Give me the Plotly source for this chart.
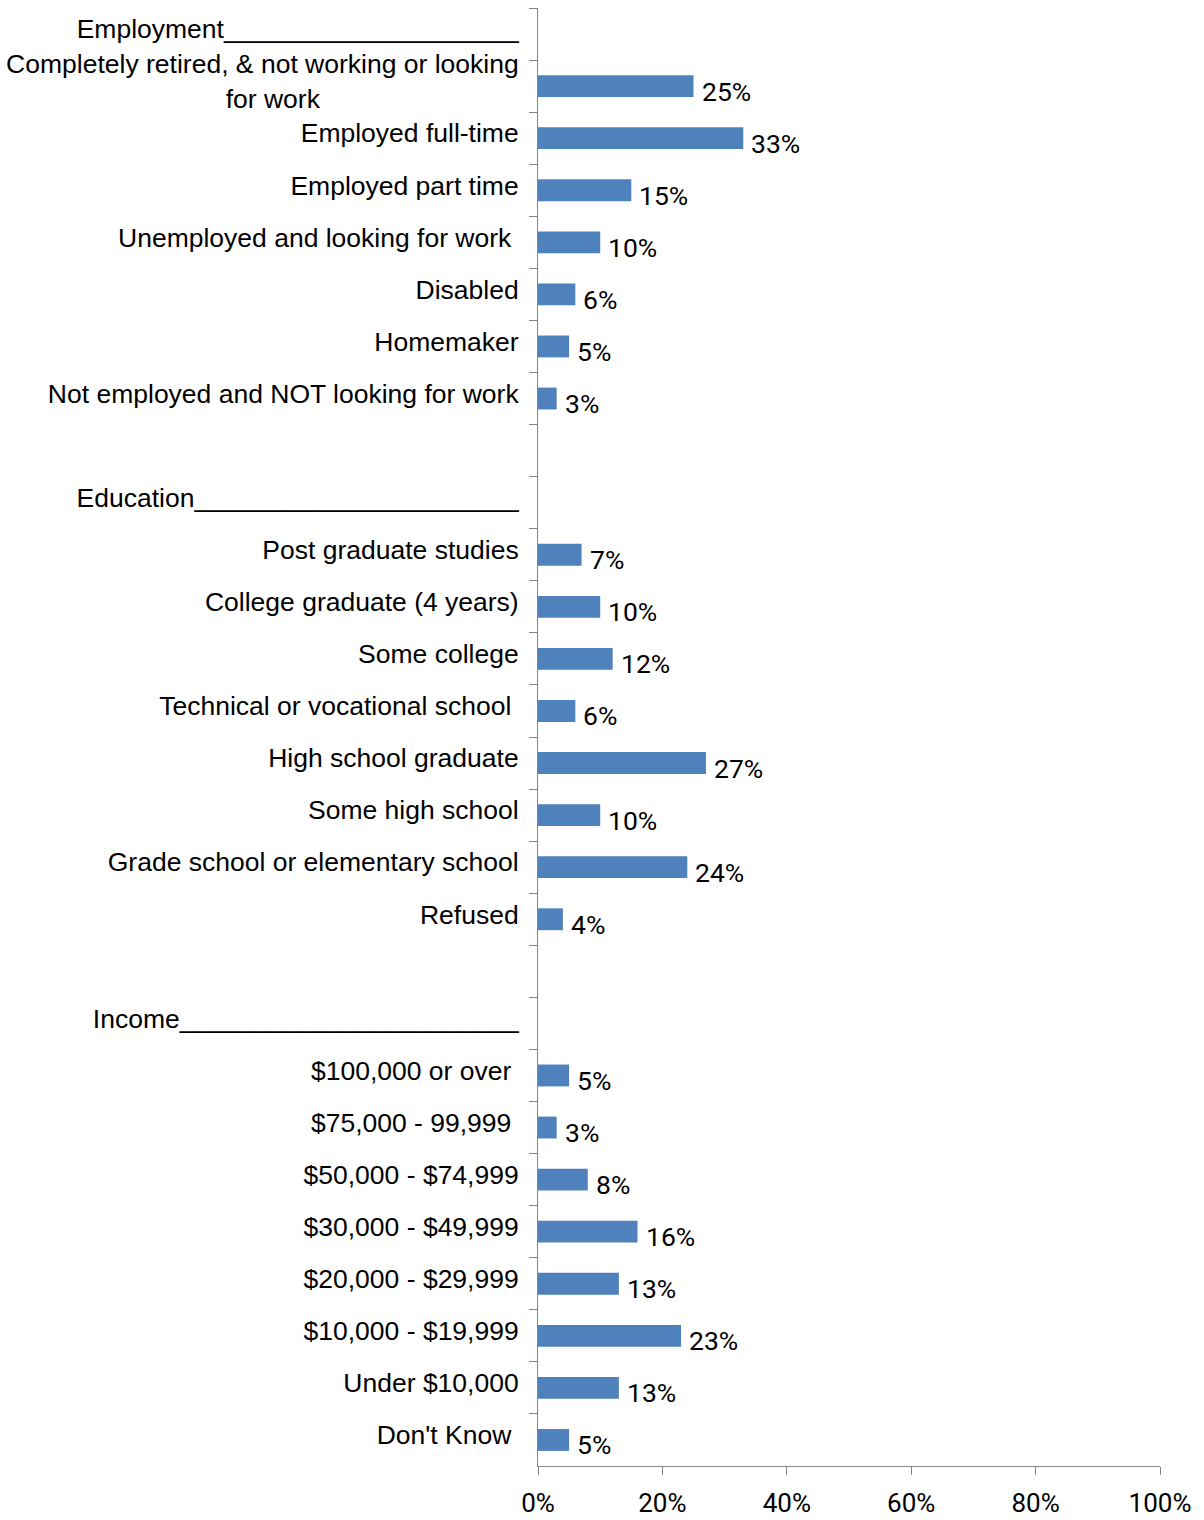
import plotly.graph_objects as go

NB = "\u00a0"

# Section headers and blank spacer rows
employment_header = "Employment____________________"
education_header = "Education______________________"
income_header = "Income_______________________"

employment_labels = [
    "Completely retired, & not working or looking<br>for work" + NB * 27,
    "Employed full-time",
    "Employed part time",
    "Unemployed and looking for work" + NB,
    "Disabled",
    "Homemaker",
    "Not employed and NOT looking for work",
]
employment_values = [25, 33, 15, 10, 6, 5, 3]

education_labels = [
    "Post graduate studies",
    "College graduate (4 years)",
    "Some college",
    "Technical or vocational school" + NB,
    "High school graduate",
    "Some high school",
    "Grade school or elementary school",
    "Refused",
]
education_values = [7, 10, 12, 6, 27, 10, 24, 4]

income_labels = [
    "$100,000 or over" + NB,
    "$75,000 - 99,999" + NB,
    "$50,000 - $74,999",
    "$30,000 - $49,999",
    "$20,000 - $29,999",
    "$10,000 - $19,999",
    "Under $10,000",
    "Don't Know" + NB,
]
income_values = [5, 3, 8, 16, 13, 23, 13, 5]

x_ticks = [0, 0.2, 0.4, 0.6, 0.8, 1.0]

# Assemble rows top-to-bottom
categories = (
    [employment_header] + employment_labels + [" "]
    + [education_header] + education_labels + ["  "]
    + [income_header] + income_labels
)
values = (
    [None] + employment_values + [None]
    + [None] + education_values + [None]
    + [None] + income_values
)
shares = [None if v is None else v / 100 for v in values]

fig = go.Figure(
    go.Bar(
        x=shares,
        y=categories,
        orientation="h",
        marker=dict(color="#4F81BD", line=dict(width=0)),
        hoverinfo="skip",
    )
)

# Percentage labels beside each bar
for cat, v in zip(categories, values):
    if v is None:
        continue
    fig.add_annotation(
        x=v / 100, y=cat, xref="x", yref="y",
        text=f"{v}%", showarrow=False,
        xanchor="left", yanchor="middle", xshift=6, yshift=-5,
        font=dict(family="Roboto", size=26.5, color="#000000"),
    )

axis_grey = "#868686"

fig.update_layout(
    width=1204, height=1520,
    margin=dict(l=538, r=44, t=8, b=54),
    paper_bgcolor="white", plot_bgcolor="white",
    bargap=0.58,
    showlegend=False,
    xaxis=dict(
        range=[0, 1],
        tickvals=x_ticks,
        tickformat=".0%",
        ticks="outside", ticklen=8, tickcolor=axis_grey, tickwidth=1,
        showline=True, linecolor=axis_grey, linewidth=1,
        showgrid=False, zeroline=False,
        automargin=False,
        ticklabelstandoff=6,
        tickfont=dict(family="Roboto", size=26, color="#000000"),
    ),
    yaxis=dict(
        type="category",
        categoryorder="array", categoryarray=categories,
        range=[len(categories) - 0.5, -0.5],
        tickson="boundaries",
        ticks="outside", ticklen=8, tickcolor=axis_grey, tickwidth=1,
        showline=True, linecolor=axis_grey, linewidth=1,
        showgrid=False, zeroline=False,
        automargin=False,
        ticklabelstandoff=13,
        ticklabelshift=5,
        tickfont=dict(family="Liberation Sans", size=26.5, color="#000000"),
    ),
)

fig.write_html("out.html")
